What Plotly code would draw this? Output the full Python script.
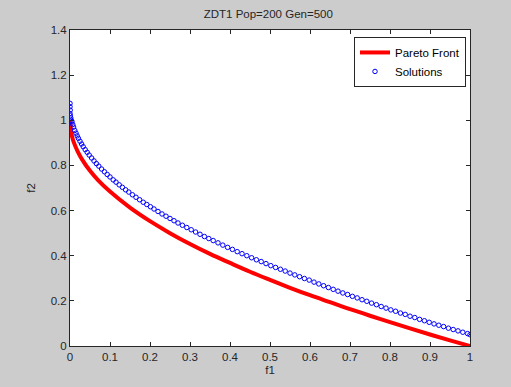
import plotly.graph_objects as go

# Pareto front
pf_f1 = [0, 0.005, 0.01, 0.02, 0.03, 0.05, 0.07, 0.1, 0.15, 0.2, 0.25, 0.3, 0.35, 0.4,
         0.45, 0.5, 0.55, 0.6, 0.65, 0.7, 0.75, 0.8, 0.85, 0.9, 0.95, 1.0]
pf_f2 = [1.0, 0.929, 0.9, 0.859, 0.827, 0.776, 0.735, 0.684, 0.613, 0.553, 0.5, 0.452, 0.408, 0.368,
         0.329, 0.293, 0.258, 0.225, 0.194, 0.163, 0.134, 0.106, 0.078, 0.051, 0.025, 0.0]

# Solutions
sol_f1 = [0.0, 0.0, 0.0005, 0.0, 0.001, 0.002, 0.003, 0.005, 0.007, 0.009, 0.012, 0.015, 0.018, 0.021,
          0.025, 0.029, 0.033, 0.038, 0.043, 0.048, 0.054, 0.060, 0.066, 0.072, 0.079, 0.086,
          0.093, 0.100, 0.108, 0.115, 0.123, 0.131, 0.139, 0.147, 0.156, 0.165, 0.174, 0.183,
          0.192, 0.201, 0.210, 0.220, 0.230, 0.240, 0.250, 0.260, 0.270, 0.281, 0.292, 0.303,
          0.314, 0.325, 0.336, 0.347, 0.358, 0.370, 0.382, 0.394, 0.406, 0.418, 0.430, 0.442,
          0.454, 0.466, 0.478, 0.490, 0.502, 0.514, 0.526, 0.538, 0.550, 0.562, 0.574, 0.586,
          0.598, 0.610, 0.622, 0.634, 0.646, 0.658, 0.670, 0.682, 0.694, 0.706, 0.718, 0.730,
          0.742, 0.754, 0.766, 0.778, 0.790, 0.802, 0.814, 0.826, 0.838, 0.850, 0.862, 0.874,
          0.886, 0.898, 0.910, 0.922, 0.934, 0.946, 0.958, 0.970, 0.982, 0.994, 1.000]
sol_f2 = [1.075, 1.06, 1.045, 1.03, 1.02, 1.01, 1.0, 0.994, 0.981, 0.970, 0.955, 0.943, 0.931, 0.920,
          0.907, 0.895, 0.883, 0.870, 0.858, 0.846, 0.833, 0.820, 0.808, 0.797, 0.784, 0.772,
          0.760, 0.749, 0.736, 0.726, 0.714, 0.703, 0.692, 0.682, 0.670, 0.659, 0.648, 0.637,
          0.627, 0.617, 0.607, 0.596, 0.585, 0.575, 0.565, 0.555, 0.545, 0.535, 0.525, 0.515,
          0.505, 0.495, 0.485, 0.476, 0.467, 0.457, 0.447, 0.437, 0.428, 0.418, 0.409, 0.400,
          0.391, 0.382, 0.374, 0.365, 0.356, 0.348, 0.340, 0.332, 0.323, 0.315, 0.307, 0.299,
          0.292, 0.283, 0.275, 0.267, 0.259, 0.251, 0.243, 0.235, 0.228, 0.220, 0.213, 0.205,
          0.198, 0.190, 0.183, 0.175, 0.168, 0.160, 0.154, 0.146, 0.140, 0.132, 0.126, 0.118,
          0.112, 0.105, 0.098, 0.092, 0.086, 0.079, 0.073, 0.067, 0.061, 0.055, 0.050]

x_ticks = [0, 0.1, 0.2, 0.3, 0.4, 0.5, 0.6, 0.7, 0.8, 0.9, 1]
x_labels = ["0", "0.1", "0.2", "0.3", "0.4", "0.5", "0.6", "0.7", "0.8", "0.9", "1"]
y_ticks = [0, 0.2, 0.4, 0.6, 0.8, 1.0, 1.2, 1.4]
y_labels = ["0", "0.2", "0.4", "0.6", "0.8", "1", "1.2", "1.4"]

font = "Liberation Sans, Arial, sans-serif"
txt = "#262626"

fig = go.Figure()
fig.add_trace(go.Scatter(x=pf_f1, y=pf_f2, mode="lines", name="Pareto Front",
                         line=dict(color="#ff0000", width=4, shape="spline")))
fig.add_trace(go.Scatter(x=sol_f1, y=sol_f2, mode="markers", name="Solutions",
                         marker=dict(symbol="circle-open", color="#0000ff", size=4.5,
                                     line=dict(width=1, color="#0000ff"))))

axis_common = dict(showline=True, linecolor=txt, linewidth=1, mirror="ticks",
                   ticks="inside", ticklen=4, tickcolor=txt, showgrid=False,
                   zeroline=False, tickfont=dict(family=font, size=11.5, color=txt))

fig.update_layout(
    width=511, height=387,
    paper_bgcolor="#cccccc", plot_bgcolor="#ffffff",
    margin=dict(l=70, r=41, t=30, b=41),
    title=dict(text="ZDT1 Pop=200 Gen=500", x=0.525, xanchor="center", y=0.975, yanchor="top",
               font=dict(family=font, size=11.5, color=txt)),
    xaxis=dict(range=[0, 1], tickvals=x_ticks, ticktext=x_labels,
               title=dict(text="f1", font=dict(family=font, size=11.5, color=txt), standoff=4),
               **axis_common),
    yaxis=dict(range=[0, 1.4], tickvals=y_ticks, ticktext=y_labels,
               title=dict(text="f2", font=dict(family=font, size=11.5, color=txt), standoff=12),
               **axis_common),
    legend=dict(x=0.99, y=0.978, xanchor="right", yanchor="top", bgcolor="#ffffff",
                bordercolor=txt, borderwidth=1, itemwidth=30,
                font=dict(family=font, size=11.5, color="#000000"), tracegroupgap=0),
    showlegend=True,
)

fig.write_html("out.html", config={"displayModeBar": False},
               post_script="document.body.style.margin='0';")
